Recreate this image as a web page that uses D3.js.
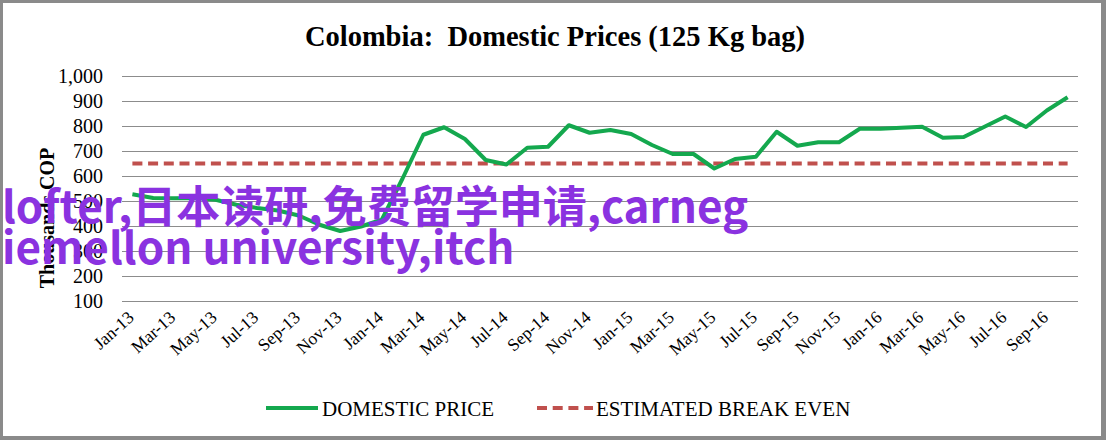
<!DOCTYPE html>
<html><head><meta charset="utf-8">
<script src="https://cdn.jsdelivr.net/npm/d3@7"></script>
<style>html,body{margin:0;padding:0;background:#fff;}svg{display:block;}</style>
</head><body>
<svg id="chart" width="1106" height="440"></svg>
<script>
const months = ["Jan-13","Feb-13","Mar-13","Apr-13","May-13","Jun-13","Jul-13","Aug-13","Sep-13","Oct-13","Nov-13","Dec-13",
"Jan-14","Feb-14","Mar-14","Apr-14","May-14","Jun-14","Jul-14","Aug-14","Sep-14","Oct-14","Nov-14","Dec-14",
"Jan-15","Feb-15","Mar-15","Apr-15","May-15","Jun-15","Jul-15","Aug-15","Sep-15","Oct-15","Nov-15","Dec-15",
"Jan-16","Feb-16","Mar-16","Apr-16","May-16","Jun-16","Jul-16","Aug-16","Sep-16","Oct-16"];
const domesticPrice = [527,512,511,512,505,485,472,462,442,405,380,398,
425,590,765,795,748,664,646,713,717,803,773,784,
768,724,688,688,630,668,677,777,721,735,735,789,
789,793,797,753,756,797,838,796,862,915];
const breakEven = months.map(() => 650);
const yTicks = [100,200,300,400,500,600,700,800,900,1000];
const xTickLabels = months.filter((m,i) => i % 2 === 0);
const titleText = "Colombia:\u00a0\u00a0Domestic Prices (125 Kg bag)";
const yTitle = "Thousands COP";
const legendLabels = ["DOMESTIC PRICE","ESTIMATED BREAK EVEN"];
const watermark = ["lofter,日本读研,免费留学申请,carneg","iemellon university,itch"];

const svg = d3.select("#chart");
const serif = "'Liberation Serif','Times New Roman',serif";
const green = "#14a84e", red = "#c0504d", grid = "#8c8c8c";

// frame
svg.append("rect").attr("x",0).attr("y",0).attr("width",1106).attr("height",440).attr("fill","#8a8a8a");
svg.append("rect").attr("x",3).attr("y",3).attr("width",1098).attr("height",433).attr("fill","#fff");

const pLeft = 122, pRight = 1078, pTop = 76, pBottom = 301;
const x = d3.scalePoint().domain(months).range([pLeft,pRight]).padding(0.5);
const y = d3.scaleLinear().domain([100,1000]).range([pBottom,pTop]);

// gridlines
const gy = svg.append("g").attr("transform",`translate(${pLeft},0)`)
  .call(d3.axisLeft(y).tickValues(yTicks).tickSize(-(pRight-pLeft)).tickFormat(""));
gy.select(".domain").remove();
gy.selectAll("line").attr("stroke",grid).attr("stroke-width",1.2);

// y tick labels
svg.append("g").selectAll("text").data(yTicks).join("text")
  .attr("x",103).attr("y",d=>y(d)).attr("dy","0.35em")
  .attr("text-anchor","end").attr("font-family",serif).attr("font-size",20).attr("fill","#000")
  .text(d3.format(","));

// x axis labels
const gx = svg.append("g").attr("transform",`translate(0,${pBottom})`)
  .call(d3.axisBottom(x).tickValues(xTickLabels).tickSize(0).tickPadding(0));
gx.select(".domain").remove();
gx.selectAll("text").attr("font-family",serif).attr("font-size",17.5).attr("fill","#000")
  .attr("text-anchor","end").attr("dy",null).attr("y",0)
  .attr("transform","translate(2,18) rotate(-42)");

// break-even
const line = d3.line().x((d,i)=>x(months[i])).y(d=>y(d));
svg.append("path").datum(breakEven).attr("d",line).attr("fill","none")
  .attr("stroke",red).attr("stroke-width",4).attr("stroke-dasharray","10,5.7");
// domestic price
svg.append("path").datum(domesticPrice).attr("d",line).attr("fill","none")
  .attr("stroke",green).attr("stroke-width",4).attr("stroke-linejoin","round");

// title
svg.append("text").attr("x",555).attr("y",46).attr("text-anchor","middle")
  .attr("font-family",serif).attr("font-weight","bold").attr("font-size",28.5).text(titleText);

// y title
svg.append("text").attr("transform","translate(54,218) rotate(-90)").attr("text-anchor","middle")
  .attr("font-family",serif).attr("font-weight","bold").attr("font-size",20).text(yTitle);

// legend
const lg = svg.append("g");
lg.append("line").attr("x1",266).attr("x2",318).attr("y1",408).attr("y2",408)
  .attr("stroke",green).attr("stroke-width",4);
lg.append("text").attr("x",322).attr("y",416).attr("font-family",serif).attr("font-size",21).text(legendLabels[0]);
lg.append("line").attr("x1",537).attr("x2",593).attr("y1",408).attr("y2",408)
  .attr("stroke",red).attr("stroke-width",4).attr("stroke-dasharray","10,5.7");
lg.append("text").attr("x",596).attr("y",416).attr("font-family",serif).attr("font-size",21).text(legendLabels[1]);

// watermark overlay
svg.append("g").selectAll("text").data(watermark).join("text")
  .attr("x",2).attr("y",(d,i)=>223+i*41)
  .attr("font-family","'Noto Sans CJK SC','Noto Sans',sans-serif").attr("font-weight","bold")
  .attr("font-size",44).attr("fill","#8a32e0").text(d=>d);
</script>
</body></html>
